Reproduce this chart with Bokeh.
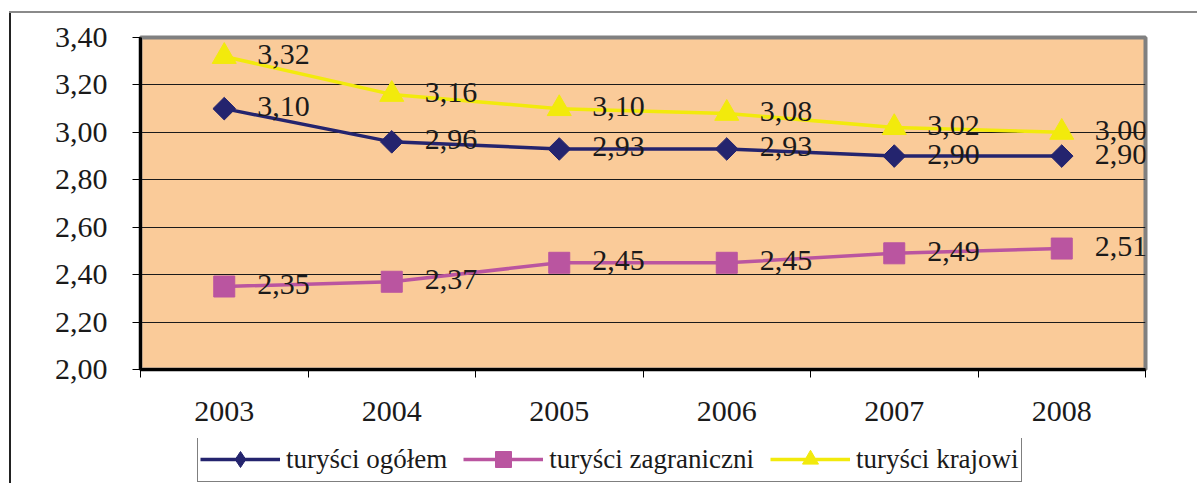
import numpy as np
from bokeh.plotting import figure
from bokeh.layouts import column
from bokeh.models import (Range1d, FixedTicker, CustomJSTickFormatter, Legend,
                          LegendItem)
from bokeh.core.properties import value
from bokeh.embed import file_html
from bokeh.resources import INLINE

# ---- data ----
years = ["2003", "2004", "2005", "2006", "2007", "2008"]
ogolem = [3.10, 2.96, 2.93, 2.93, 2.90, 2.90]
zagraniczni = [2.35, 2.37, 2.45, 2.45, 2.49, 2.51]
krajowi = [3.32, 3.16, 3.10, 3.08, 3.02, 3.00]
series_names = ["turyści ogółem", "turyści zagraniczni", "turyści krajowi"]
y_ticks = [2.00, 2.20, 2.40, 2.60, 2.80, 3.00, 3.20, 3.40]

FONT = "Liberation Serif"
NAVY = "#24246E"
PINK = "#BA55A0"
YELLOW = "#F2EA0C"
BG = "#FACB99"
W = 1197
H_MAIN = 438
H_LEG = 45

xc = [i + 0.5 for i in range(len(years))]
bounds = list(range(len(years) + 1))

p = figure(width=W, height=H_MAIN, x_range=Range1d(0, len(years)),
           y_range=Range1d(y_ticks[0], y_ticks[-1]),
           output_backend="svg", toolbar_location=None,
           min_border_left=140, min_border_right=52,
           min_border_top=37, min_border_bottom=69,
           background_fill_color=BG, border_fill_alpha=0)

p.outline_line_color = "#808080"
p.outline_line_width = 4

p.xgrid.visible = False
p.ygrid.ticker = FixedTicker(ticks=y_ticks)
p.ygrid.grid_line_color = "#1a1a1a"
p.ygrid.grid_line_width = 1

# y axis
ya = p.yaxis[0]
ya.ticker = FixedTicker(ticks=y_ticks)
ya.formatter = CustomJSTickFormatter(code="return tick.toFixed(2).replace('.', ',')")
ya.major_tick_out = 8
ya.major_tick_in = 0
ya.minor_tick_line_color = None
ya.axis_line_color = "black"
ya.axis_line_width = 3
ya.major_tick_line_color = "black"
ya.major_label_text_font = FONT
ya.major_label_text_font_size = "30px"
ya.major_label_text_color = "#1a1a1a"
ya.major_label_standoff = 25

# x axis
xa = p.xaxis[0]
xa.ticker = FixedTicker(ticks=xc, minor_ticks=bounds)
xa.formatter = CustomJSTickFormatter(args=dict(labels=years),
                                     code="return labels[Math.round(tick - 0.5)]")
xa.major_tick_line_color = None
xa.minor_tick_out = 8
xa.minor_tick_in = 0
xa.minor_tick_line_color = "black"
xa.axis_line_color = "black"
xa.axis_line_width = 3
xa.major_label_text_font = FONT
xa.major_label_text_font_size = "30px"
xa.major_label_text_color = "#1a1a1a"
xa.major_label_standoff = 24

specs = [
    (ogolem, NAVY, dict(marker="square", angle=np.pi / 4, size=16), "diamond"),
    (zagraniczni, PINK, dict(marker="square", size=21), "square"),
    (krajowi, YELLOW, dict(marker="triangle", size=24), "triangle"),
]
for vals, col, mk, _ in specs:
    p.line(xc, vals, line_color=col, line_width=3.5)
    p.scatter(xc, vals, fill_color=col, line_color=col, **mk)

for vals in (ogolem, zagraniczni, krajowi):
    p.text(xc, vals, text=[f"{v:.2f}".replace(".", ",") for v in vals],
           x_offset=33, y_offset=-2, text_align="left", text_baseline="middle",
           text_font=value(FONT), text_font_size="30px", text_color="#1a1a1a")

# ---- legend strip (separate figure so the legend is not clipped) ----
q = figure(width=W, height=H_LEG, x_range=Range1d(0, len(years)),
           y_range=Range1d(10, 11), output_backend="svg",
           toolbar_location=None, x_axis_type=None, y_axis_type=None,
           min_border=0, outline_line_color=None,
           background_fill_alpha=0, border_fill_alpha=0)
q.grid.visible = False

items = []
for name, (vals, col, mk, leg_marker) in zip(series_names, specs):
    ln = q.line(xc, vals, line_color=col, line_width=3.5)
    sc = q.scatter(xc, vals, marker=leg_marker, size=16,
                   fill_color=col, line_color=col)
    items.append(LegendItem(label=name, renderers=[ln, sc]))

legend = Legend(items=items, location=(57, 1), orientation="horizontal",
                label_text_font=FONT, label_text_font_size="27px",
                label_text_color="#1a1a1a",
                glyph_width=80, glyph_height=40, label_standoff=6, spacing=16,
                padding=2, margin=0, border_line_color="black",
                border_line_width=1, background_fill_color="white",
                background_fill_alpha=1)
q.add_layout(legend)

page = column(p, q, spacing=0)
# outer chart frame (top grey, left dark) shown through the transparent canvases
page.styles = {
    "background": ("linear-gradient(#8a8a8a,#8a8a8a) 9px 11px / 1188px 2px no-repeat, "
                   "linear-gradient(#222222,#222222) 9px 11px / 2px 472px no-repeat, "
                   "#ffffff"),
}

open("out.html", "w").write(file_html(page, INLINE))
